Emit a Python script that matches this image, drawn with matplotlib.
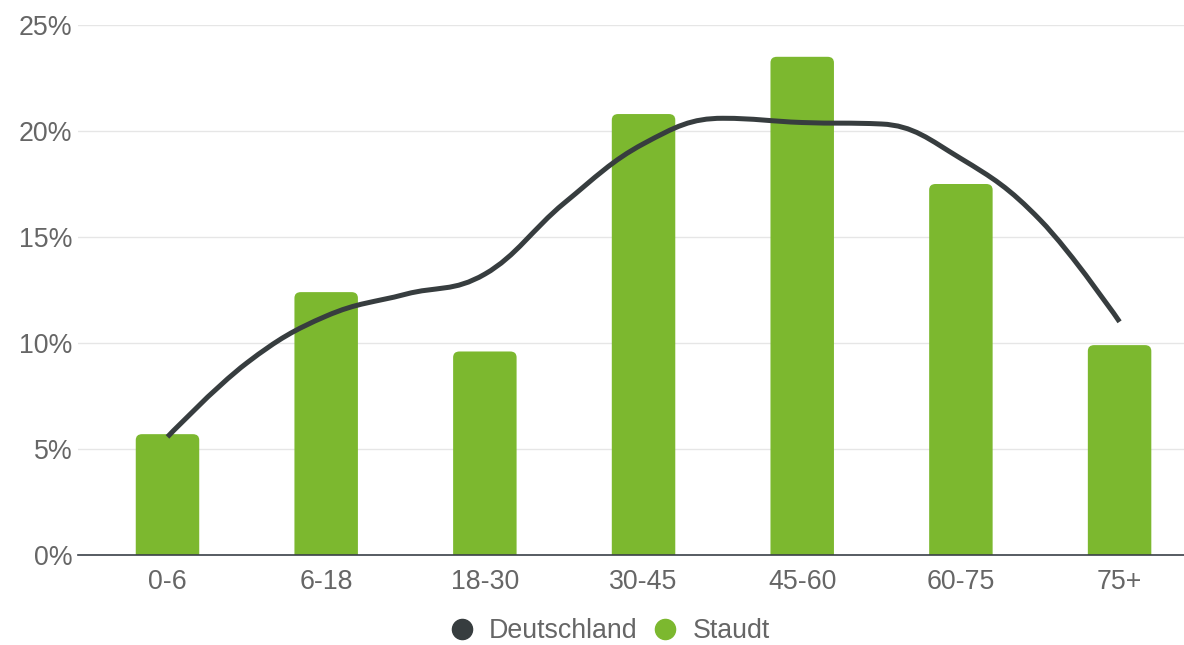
"""
Age distribution chart: Staudt (bars) vs Deutschland (smoothed line).
"""

import matplotlib

matplotlib.use("Agg")
import matplotlib.pyplot as plt
import numpy as np
from matplotlib.lines import Line2D
from matplotlib.patches import FancyBboxPatch, PathPatch
from matplotlib.path import Path
from matplotlib.ticker import FuncFormatter, MultipleLocator

AGE_GROUPS = ["0-6", "6-18", "18-30", "30-45", "45-60", "60-75", "75+"]
STAUDT = [5.7, 12.4, 9.6, 20.8, 23.5, 17.5, 9.9]
# Deutschland curve, read at every half age-group step (0-6, between, 6-18, ...)
DEUTSCHLAND = [5.57, 9.06, 11.27, 12.3, 13.25, 16.6, 19.4,
               20.6, 20.4, 20.33, 18.7, 15.8, 11.0]
SERIES_NAMES = ["Deutschland", "Staudt"]

_GREEN = "#7cb82f"
_DARK = "#373d3f"
_TEXT = "#666666"
_GRID = "#e6e6e6"
_FS = 19.3


def _spline_path(xs, ys, smoothing=1.5):
    """Bezier path through the points, Highcharts-style spline smoothing."""
    denom = smoothing + 1
    n = len(xs)
    left = [None] * n
    right = [None] * n
    for i in range(1, n - 1):
        px, py = xs[i], ys[i]
        lx, ly = xs[i - 1], ys[i - 1]
        nx, ny = xs[i + 1], ys[i + 1]
        lcx = (smoothing * px + lx) / denom
        lcy = (smoothing * py + ly) / denom
        rcx = (smoothing * px + nx) / denom
        rcy = (smoothing * py + ny) / denom
        corr = (rcy - lcy) * (rcx - px) / (rcx - lcx) + py - rcy
        lcy += corr
        rcy += corr
        if lcy > ly and lcy > py:
            lcy = max(ly, py)
            rcy = 2 * py - lcy
        elif lcy < ly and lcy < py:
            lcy = min(ly, py)
            rcy = 2 * py - lcy
        if rcy > ny and rcy > py:
            rcy = max(ny, py)
            lcy = 2 * py - rcy
        elif rcy < ny and rcy < py:
            rcy = min(ny, py)
            lcy = 2 * py - rcy
        left[i] = (lcx, lcy)
        right[i] = (rcx, rcy)
    verts = [(xs[0], ys[0])]
    codes = [Path.MOVETO]
    for i in range(1, n):
        c1 = right[i - 1] or (xs[i - 1], ys[i - 1])
        c2 = left[i] or (xs[i], ys[i])
        verts += [c1, c2, (xs[i], ys[i])]
        codes += [Path.CURVE4] * 3
    return Path(verts, codes)


plt.rcParams["font.family"] = ["Liberation Sans", "DejaVu Sans"]

fig = plt.figure(figsize=(11.84, 6.45), dpi=100)
ax = fig.add_axes([78 / 1184, 1 - 555 / 645, 1 - 78 / 1184, 530 / 645])

x = np.arange(len(AGE_GROUPS))
bar_w = 0.4
ax.set_xlim(-0.564, 6.406)
ax.set_ylim(0, 25)

# rounded-top bars (bottom rounding hidden below the axis)
for xi, v in zip(x, STAUDT):
    ax.add_patch(FancyBboxPatch(
        (xi - bar_w / 2, -1), bar_w, v + 1,
        boxstyle="round,pad=0,rounding_size=0.04",
        mutation_aspect=7.0, facecolor=_GREEN, edgecolor="none", zorder=2,
    ))

line_x = np.arange(len(DEUTSCHLAND)) / 2
ax.add_patch(PathPatch(
    _spline_path(list(line_x), DEUTSCHLAND), facecolor="none",
    edgecolor=_DARK, linewidth=3.6, capstyle="butt", zorder=4,
))

ax.yaxis.set_major_locator(MultipleLocator(5))
ax.yaxis.set_major_formatter(FuncFormatter(lambda v, _: f"{v:.0f}%"))
ax.set_xticks(x)
ax.set_xticklabels(AGE_GROUPS)
ax.tick_params(axis="both", length=0, labelsize=_FS, labelcolor=_TEXT)
ax.tick_params(axis="x", pad=10)
ax.tick_params(axis="y", pad=4)
ax.grid(True, axis="y", color=_GRID, linewidth=1)
ax.set_axisbelow(True)
for side in ("top", "right", "left"):
    ax.spines[side].set_visible(False)
ax.spines["bottom"].set_color("#3a4048")
ax.spines["bottom"].set_linewidth(1.2)
ax.spines["bottom"].set_zorder(5)

handles = [
    Line2D([], [], marker="o", ls="", markersize=14.5, color=_DARK),
    Line2D([], [], marker="o", ls="", markersize=14.5, color=_GREEN),
]
fig.legend(handles, SERIES_NAMES, loc="center", bbox_to_anchor=(0.5147, 0.0217),
           ncol=2, frameon=False, fontsize=_FS, labelcolor=_TEXT,
           handlelength=0.95, handletextpad=0.55, columnspacing=0.55)

fig.savefig("out.png", dpi=100)
plt.close(fig)
